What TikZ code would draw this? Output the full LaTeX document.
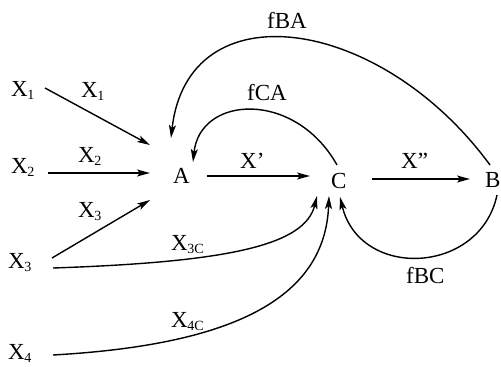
\documentclass[tikz,border=0pt]{standalone}
\usepackage{fontspec}
\setmainfont{Liberation Serif}
\usetikzlibrary{arrows.meta,calc}
\newcommand\sbx[1]{\kern-0.5pt\raisebox{-0.35ex}{\fontsize{14}{14}\selectfont #1}}
\begin{document}
\begin{tikzpicture}[x=1pt,y=-1pt,
  lbl/.style={anchor=base west,inner sep=0pt,font=\fontsize{23}{26}\selectfont},
  arr/.style={line width=1.4pt,-{Stealth[length=13pt,width=7pt,inset=3pt]}}]
\useasboundingbox (0,0) rectangle (501,367);
% main nodes
\node[lbl] (A) at (173,183) {A};
\node[lbl] (C) at (331,188) {C};
\node[lbl] (B) at (485,187) {B};
\node[lbl] (X1) at (11,96) {X\sbx{1}};
\node[lbl] (X2) at (11,173) {X\sbx{2}};
\node[lbl] (X3) at (8,268) {X\sbx{3}};
\node[lbl] (X4) at (8,359) {X\sbx{4}};
% labels
\node[lbl] (l1) at (81,97) {X\sbx{1}};
\node[lbl] (l2) at (78,162) {X\sbx{2}};
\node[lbl] (l3) at (78,217) {X\sbx{3}};
\node[lbl] (l3c) at (171,250) {X\sbx{3C}};
\node[lbl] (l4c) at (171,327) {X\sbx{4C}};
\node[lbl] (lp) at (240,168) {X’};
\node[lbl] (lpp) at (401,168) {X”};
\node[lbl] (lca) at (247,100) {fCA};
\node[lbl] (lba) at (267,28) {fBA};
\node[lbl] (lbc) at (406,283) {fBC};
% connectors
\draw[arr] ($(X1.base west)+(34,-8)$) -- ($(A.base west)+(-23,-38)$);
\draw[arr] ($(X2.base west)+(37,0)$) -- ($(A.base west)+(-23,-10)$);
\draw[arr] ($(X3.base west)+(44,-10)$) -- ($(A.base west)+(-23,17)$);
\draw[arr] ($(A.base west)+(34,-7)$) -- ($(C.base west)+(-21,-12)$);
\draw[arr] ($(C.base west)+(41,-9)$) -- ($(B.base west)+(-15,-8)$);
\draw[arr] ($(X3.base west)+(45,0)$) .. controls +(177,-6) and +(-12,49) .. ($(C.base west)+(-14,8)$);
\draw[arr] ($(X4.base west)+(45,-4)$) .. controls +(177,-10) and +(-4,104) .. ($(C.base west)+(-2,8)$);
\draw[arr] ($(B.base west)+(12,8)$) .. controls +(-17,80) and +(20,83) .. ($(C.base west)+(9,9)$);
\draw[arr] ($(C.base west)+(6,-23)$) .. controls +(-42,-75) and +(7,-67) .. ($(A.base west)+(20,-21)$);
\draw[arr] ($(B.base west)+(5,-22)$) .. controls +(-110,-150) and +(17,-150) .. ($(A.base west)+(-2,-45)$);
\end{tikzpicture}
\end{document}
